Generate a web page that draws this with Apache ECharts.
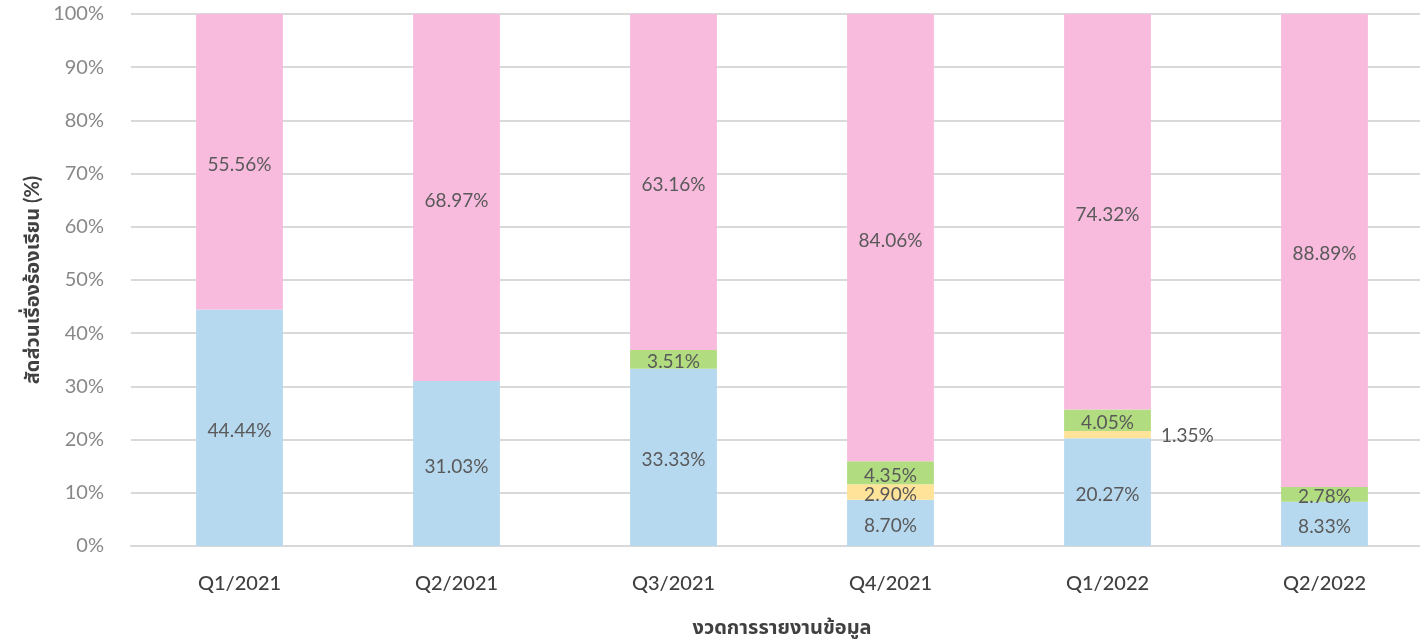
<!DOCTYPE html>
<html><head><meta charset="utf-8">
<script src="https://cdn.jsdelivr.net/npm/echarts@6/dist/echarts.min.js"></script>
<style>html,body{margin:0;padding:0;background:#fff}#c{width:1420px;height:642px}</style>
</head><body><div id="c"></div>
<script>
const categories = ['Q1/2021','Q2/2021','Q3/2021','Q4/2021','Q1/2022','Q2/2022'];
const blueValues   = [44.44, 31.03, 33.33, 8.70, 20.27, 8.33];
const yellowValues = [0, 0, 0, 2.90, 1.35, 0];
const greenValues  = [0, 0, 3.51, 4.35, 4.05, 2.78];
const pinkValues   = [55.56, 68.97, 63.16, 84.06, 74.32, 88.89];
const yTicks = [0,10,20,30,40,50,60,70,80,90,100];
const yAxisTitle = 'สัดส่วนเรื่องร้องเรียน (%)';
const xAxisTitle = 'งวดการรายงานข้อมูล';

const FONT = 'Lato, "Noto Sans", "Noto Sans Thai", "DejaVu Sans", sans-serif';
function mk(name, vals, color){
  return {
    name, type:'bar', stack:'s', barWidth:'40%',
    itemStyle:{color},
    label:{show:true, position:'inside', offset:[0,3], color:'#595959', fontSize:19, fontFamily:FONT,
      formatter:p=>p.value>0?p.value.toFixed(2)+'%':''},
    data: vals.map(v=>{
      if(v>0 && v<2) return {value:v, label:{position:'right', distance:10, offset:[0,1]}};
      return {value:v};
    })
  };
}
const chart = echarts.init(document.getElementById('c'));
chart.setOption({
  animation:false,
  grid:{left:131, width:1302, top:14, height:532, containLabel:false, outerBoundsMode:'none'},
  xAxis:{type:'category', data:categories,
    axisLine:{lineStyle:{color:'#d9d9d9', width:2}}, axisTick:{show:false},
    axisLabel:{color:'#404040', fontSize:20, fontFamily:FONT, fontWeight:500, margin:28},
    name:xAxisTitle, nameLocation:'middle', nameGap:72,
    nameTextStyle:{color:'#404040', fontSize:20, fontWeight:'bold', fontFamily:FONT}},
  yAxis:{type:'value', min:0, max:100, interval:10,
    axisLabel:{color:'#888', fontSize:20, fontFamily:FONT, margin:27,
      formatter:v=>yTicks.includes(v)?v+'%':''},
    splitLine:{lineStyle:{color:'#d9d9d9', width:2}},
    axisLine:{show:false}, axisTick:{show:false},
    name:yAxisTitle, nameLocation:'middle', nameGap:84,
    nameTextStyle:{color:'#404040', fontSize:20, fontWeight:'bold', fontFamily:FONT}},
  series:[
    mk('blue', blueValues, '#B7D9F0'),
    mk('yellow', yellowValues, '#FFE398'),
    mk('green', greenValues, '#B1DD80'),
    mk('pink', pinkValues, '#F8BBDD')
  ]
});
</script></body></html>
